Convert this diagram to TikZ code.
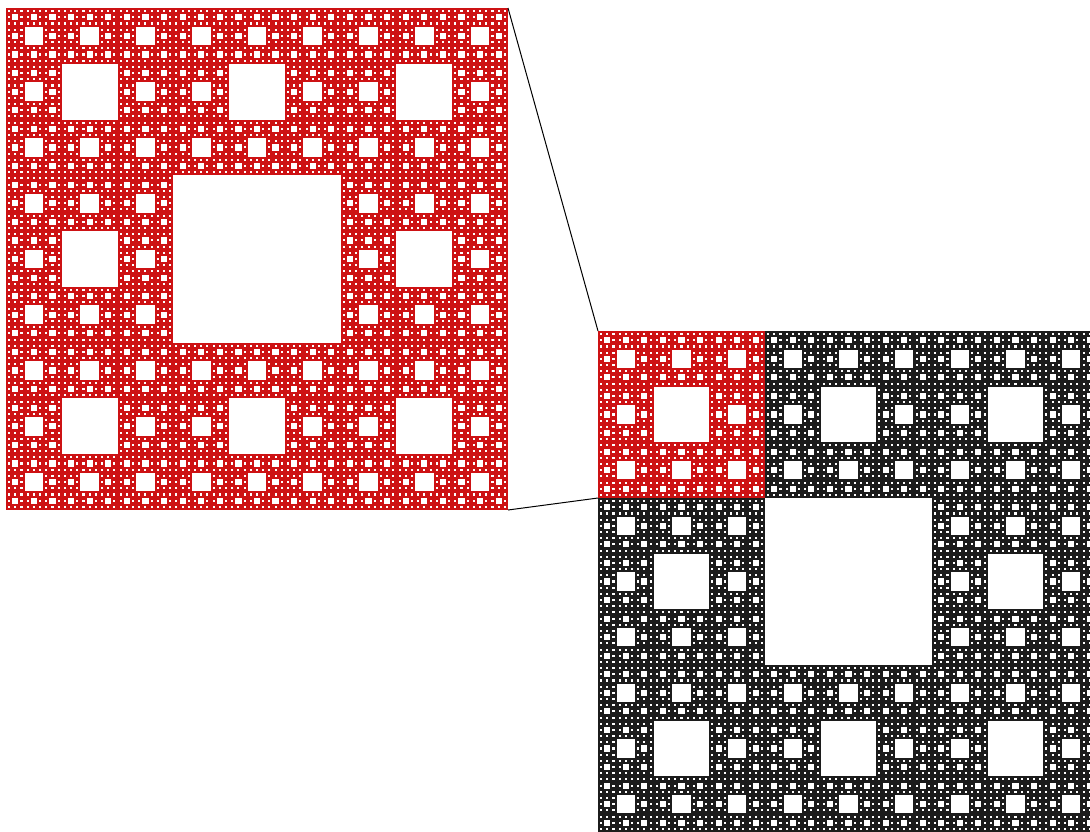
\documentclass[tikz,border=0pt]{standalone}
\definecolor{carpetred}{RGB}{205,18,20}
\definecolor{carpetblack}{RGB}{28,28,28}
\tikzset{
  carpethole/.style={fill=white},
  frame/.style={inner sep=0pt, outer sep=0pt, draw=none, anchor=north west},
  zoomline/.style={draw=black, line width=1pt}
}
\newcommand\carpetholes[4]{%
  \pgfmathsetmacro\cs{#3/3}%
  \fill[carpethole] ({#1+\cs},{#2+\cs}) rectangle ++(\cs,\cs);
  \ifnum#4>1
    \foreach \i in {0,1,2}{\foreach \j in {0,1,2}{%
      \ifnum\i\j=11 \else
        \pgfmathsetmacro\nx{#1+\i*\cs}\pgfmathsetmacro\ny{#2+\j*\cs}%
        \edef\next{\noexpand\carpetholes{\nx}{\ny}{\cs}{\the\numexpr#4-1\relax}}\next
      \fi}}%
  \fi}
\begin{document}
\begin{tikzpicture}[x=1pt,y=-1pt]
\useasboundingbox (0,0) rectangle (1090,831);
\fill[white] (0,0) rectangle (1090,831);
% zoomed copy (red)
\node[frame, minimum width=502pt, minimum height=502pt] (zoombox) at (6,8) {};
\fill[carpetred] (6,8) rectangle ++(502,502);
\carpetholes{6}{8}{502}{5}
% big carpet
\begin{scope}
\clip (0,0) rectangle (1090,831);
\node[frame, minimum width=167pt, minimum height=167pt] (subbox) at (598,331) {};
\fill[carpetblack] (598,331) rectangle ++(501,501);
\fill[carpetred] (598,331) rectangle ++(167,167);
\carpetholes{598}{331}{501}{5}
\end{scope}
% connectors
\draw[zoomline] (zoombox.north east) -- (subbox.north west);
\draw[zoomline] (zoombox.south east) -- (subbox.south west);
\end{tikzpicture}
\end{document}
